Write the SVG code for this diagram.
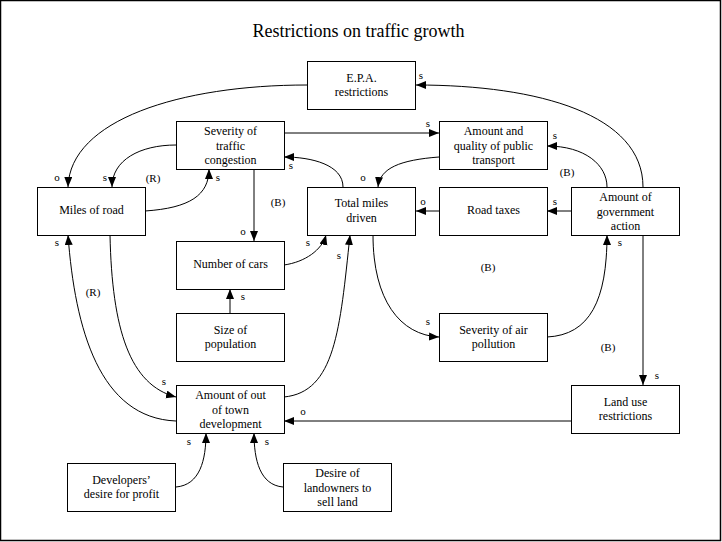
<svg xmlns="http://www.w3.org/2000/svg" width="722" height="542" viewBox="0 0 722 542" font-family="Liberation Serif, Times New Roman, serif">
<style>
.box{fill:#fff;stroke:#000;stroke-width:1}
.t{font-size:12px;fill:#000;text-anchor:middle}
.l{font-size:11px;fill:#000;text-anchor:middle}
.c{fill:none;stroke:#000;stroke-width:1;marker-end:url(#ah)}
</style>
<defs>
<marker id="ah" markerUnits="userSpaceOnUse" markerWidth="11" markerHeight="9" refX="10" refY="4" orient="auto" viewBox="0 0 11 9">
<path d="M0,0 L10,4 L0,8 z" fill="#000"/>
</marker>
</defs>
<rect x="0" y="0" width="722" height="542" fill="#fff"/>
<rect x="0.5" y="0.5" width="720" height="540" fill="none" stroke="#000" stroke-width="1.5"/>
<text x="358.5" y="37" font-size="18" text-anchor="middle">Restrictions on traffic growth</text>

<g id="connectors">
<path class="c" d="M643,187 C643,115 540,85 416,85"/>
<path class="c" d="M307,85 C180,85 70,120 68,187"/>
<path class="c" d="M176,145 C140,145 112,160 112,187"/>
<path class="c" d="M145,211 C190,208 209,195 209,169"/>
<path class="c" d="M284,133 L439,133"/>
<path class="c" d="M254,169 L254,241"/>
<path class="c" d="M343,187 C343,165 312,157 284,157"/>
<path class="c" d="M439,157 C400,160 380,168 378,187"/>
<path class="c" d="M284,265 C305,262 322,250 326,235"/>
<path class="c" d="M439,211 L416,211"/>
<path class="c" d="M572,211 L547,211"/>
<path class="c" d="M607,187 C607,165 585,146 547,146"/>
<path class="c" d="M230,313 L230,289"/>
<path class="c" d="M284,397 C335,392 340,330 350,235"/>
<path class="c" d="M110,235 C112,330 130,385 176,397"/>
<path class="c" d="M176,421 C100,418 75,330 68,235"/>
<path class="c" d="M176,487 C200,485 206,460 206,433"/>
<path class="c" d="M283,487 C260,485 254,460 254,433"/>
<path class="c" d="M572,421 L284,421"/>
<path class="c" d="M643,235 L643,385"/>
<path class="c" d="M373,235 C373,300 400,335 439,337"/>
<path class="c" d="M547,337 C590,335 607,300 607,235"/>
<text class="l" x="421" y="79">s</text>
<text class="l" x="57" y="181">o</text>
<text class="l" x="105" y="181">s</text>
<text class="l" x="153" y="182">(R)</text>
<text class="l" x="218" y="181">s</text>
<text class="l" x="428" y="127">s</text>
<text class="l" x="243" y="235">o</text>
<text class="l" x="278" y="206">(B)</text>
<text class="l" x="291" y="169">s</text>
<text class="l" x="363" y="181">o</text>
<text class="l" x="308" y="246">s</text>
<text class="l" x="339" y="259">s</text>
<text class="l" x="423" y="205">o</text>
<text class="l" x="555" y="205">s</text>
<text class="l" x="555" y="139">s</text>
<text class="l" x="567" y="176">(B)</text>
<text class="l" x="620" y="246">s</text>
<text class="l" x="488" y="271">(B)</text>
<text class="l" x="243" y="300">s</text>
<text class="l" x="93" y="296">(R)</text>
<text class="l" x="57" y="246">s</text>
<text class="l" x="164" y="385">s</text>
<text class="l" x="303" y="415">o</text>
<text class="l" x="189" y="445">s</text>
<text class="l" x="267" y="445">s</text>
<text class="l" x="428" y="325">s</text>
<text class="l" x="608" y="351">(B)</text>
<text class="l" x="657" y="379">s</text>
</g>

<g id="epa"><rect class="box" x="307.5" y="61.5" width="108" height="48"/>
<text class="t" x="361.5" y="82">E.P.A.</text><text class="t" x="361.5" y="96">restrictions</text></g>

<g id="congestion"><rect class="box" x="176.5" y="121.5" width="108" height="48"/>
<text class="t" x="230.5" y="135">Severity of</text><text class="t" x="230.5" y="150">traffic</text><text class="t" x="230.5" y="164">congestion</text></g>

<g id="transport"><rect class="box" x="439.5" y="121.5" width="108" height="48"/>
<text class="t" x="493.5" y="135">Amount and</text><text class="t" x="493.5" y="150">quality of public</text><text class="t" x="493.5" y="164">transport</text></g>

<g id="miles-road"><rect class="box" x="37.5" y="187.5" width="108" height="48"/>
<text class="t" x="91.5" y="214">Miles of road</text></g>

<g id="total-miles"><rect class="box" x="307.5" y="187.5" width="108" height="48"/>
<text class="t" x="361.5" y="207">Total miles</text><text class="t" x="361.5" y="222">driven</text></g>

<g id="road-taxes"><rect class="box" x="439.5" y="187.5" width="108" height="48"/>
<text class="t" x="493.5" y="214">Road taxes</text></g>

<g id="government"><rect class="box" x="571.5" y="187.5" width="108" height="48"/>
<text class="t" x="625.5" y="201">Amount of</text><text class="t" x="625.5" y="216">government</text><text class="t" x="625.5" y="230">action</text></g>

<g id="cars"><rect class="box" x="176.5" y="241.5" width="108" height="48"/>
<text class="t" x="230.5" y="268">Number of cars</text></g>

<g id="population"><rect class="box" x="176.5" y="313.5" width="108" height="48"/>
<text class="t" x="230.5" y="334">Size of</text><text class="t" x="230.5" y="348">population</text></g>

<g id="air"><rect class="box" x="439.5" y="313.5" width="108" height="48"/>
<text class="t" x="493.5" y="334">Severity of air</text><text class="t" x="493.5" y="348">pollution</text></g>

<g id="development"><rect class="box" x="176.5" y="385.5" width="108" height="48"/>
<text class="t" x="230.5" y="399">Amount of out</text><text class="t" x="230.5" y="414">of town</text><text class="t" x="230.5" y="428">development</text></g>

<g id="land-use"><rect class="box" x="571.5" y="385.5" width="108" height="48"/>
<text class="t" x="625.5" y="406">Land use</text><text class="t" x="625.5" y="420">restrictions</text></g>

<g id="developers"><rect class="box" x="67.5" y="463.5" width="108" height="48"/>
<text class="t" x="121.5" y="484">Developers’</text><text class="t" x="121.5" y="498">desire for profit</text></g>

<g id="landowners"><rect class="box" x="283.5" y="463.5" width="108" height="48"/>
<text class="t" x="337.5" y="477">Desire of</text><text class="t" x="337.5" y="492">landowners to</text><text class="t" x="337.5" y="506">sell land</text></g>
</svg>
